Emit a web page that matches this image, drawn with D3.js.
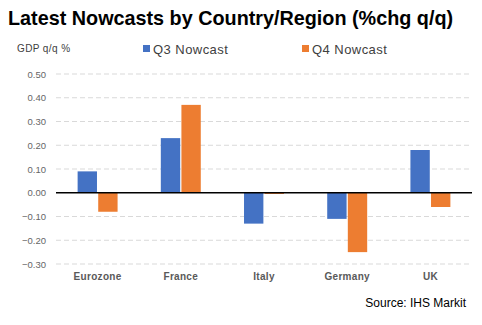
<!DOCTYPE html>
<html>
<head>
<meta charset="utf-8">
<script src="https://cdn.jsdelivr.net/npm/d3@7"></script>
<style>
  body { margin: 0; background: #fff; }
  text { font-family: "Liberation Sans", Arial, sans-serif; }
</style>
</head>
<body>
<div id="chart"></div>
<script>
const categories = ["Eurozone", "France", "Italy", "Germany", "UK"];
const seriesNames = ["Q3 Nowcast", "Q4 Nowcast"];
const q3Values = [0.09, 0.23, -0.13, -0.11, 0.18];
const q4Values = [-0.08, 0.37, -0.005, -0.25, -0.06];
const yTicks = [-0.3, -0.2, -0.1, 0, 0.1, 0.2, 0.3, 0.4, 0.5];
const colors = ["#4472c4", "#ed7d31"];

const W = 482, H = 325;
const margin = { top: 74, right: 10, bottom: 61, left: 56 };
const width = W - margin.left - margin.right;
const height = H - margin.top - margin.bottom;

const svg = d3.select("#chart").append("svg")
    .attr("width", W)
    .attr("height", H);

// title
svg.append("text")
    .attr("x", 8).attr("y", 25)
    .attr("font-size", 19.8).attr("font-weight", "bold")
    .attr("fill", "#000")
    .text("Latest Nowcasts by Country/Region (%chg q/q)");

svg.append("text")
    .attr("x", 17).attr("y", 52)
    .attr("font-size", 10).attr("fill", "#404040")
    .attr("letter-spacing", 0.4)
    .text("GDP q/q %");

// legend
const legendX = [143, 302];
seriesNames.forEach((name, i) => {
    svg.append("rect")
        .attr("x", legendX[i]).attr("y", 45)
        .attr("width", 7).attr("height", 7)
        .attr("fill", colors[i]);
    svg.append("text")
        .attr("x", legendX[i] + 10).attr("y", 53.5)
        .attr("font-size", 13).attr("fill", "#404040")
        .attr("letter-spacing", 0.45)
        .text(name);
});

const g = svg.append("g")
    .attr("transform", `translate(${margin.left},${margin.top})`);

const y = d3.scaleLinear()
    .domain([-0.3, 0.5])
    .range([height, 0]);

const x0 = d3.scaleBand()
    .domain(categories)
    .range([0, width])
    .paddingInner(0.49)
    .paddingOuter(0.245);

const x1 = d3.scaleBand()
    .domain(seriesNames)
    .range([0, x0.bandwidth()])
    .padding(0.06);

// gridlines
g.selectAll(".grid")
    .data(yTicks.filter(d => d !== 0))
    .enter().append("line")
    .attr("class", "grid")
    .attr("x1", 0).attr("x2", width)
    .attr("y1", d => y(d)).attr("y2", d => y(d))
    .attr("stroke", "#d9d9d9")
    .attr("stroke-width", 1)
    .attr("stroke-dasharray", "5,3");

// y axis labels
g.append("g")
    .call(d3.axisLeft(y).tickValues(yTicks).tickFormat(d3.format(".2f")).tickSize(0).tickPadding(10))
    .call(g => g.select(".domain").remove())
    .call(g => g.selectAll("text")
        .attr("font-size", 9.5)
        .attr("fill", "#666")
        .style("font-family", "'Liberation Sans', Arial, sans-serif"));

// bars
const rows = categories.map((c, i) => ({ cat: c, vals: [q3Values[i], q4Values[i]] }));

const groups = g.selectAll(".cat")
    .data(rows)
    .enter().append("g")
    .attr("transform", d => `translate(${x0(d.cat)},0)`);

groups.selectAll("rect")
    .data(d => d.vals.map((v, i) => ({ name: seriesNames[i], v: v, i: i })))
    .enter().append("rect")
    .attr("x", d => x1(d.name))
    .attr("width", x1.bandwidth())
    .attr("y", d => y(Math.max(0, d.v)))
    .attr("height", d => Math.abs(y(d.v) - y(0)))
    .attr("fill", d => colors[d.i]);

// zero line
g.append("line")
    .attr("x1", 0).attr("x2", width)
    .attr("y1", y(0)).attr("y2", y(0))
    .attr("stroke", "#000")
    .attr("stroke-width", 1.5);

// category labels
g.append("g")
    .attr("transform", `translate(0,${height})`)
    .call(d3.axisBottom(x0).tickSize(0).tickPadding(9))
    .call(g => g.select(".domain").remove())
    .call(g => g.selectAll("text")
        .attr("font-size", 10)
        .attr("font-weight", "bold")
        .attr("fill", "#595959")
        .attr("letter-spacing", 0.3)
        .style("font-family", "'Liberation Sans', Arial, sans-serif"));

// source
svg.append("text")
    .attr("x", 466).attr("y", 307)
    .attr("text-anchor", "end")
    .attr("font-size", 12).attr("fill", "#000")
    .text("Source: IHS Markit");
</script>
</body>
</html>
